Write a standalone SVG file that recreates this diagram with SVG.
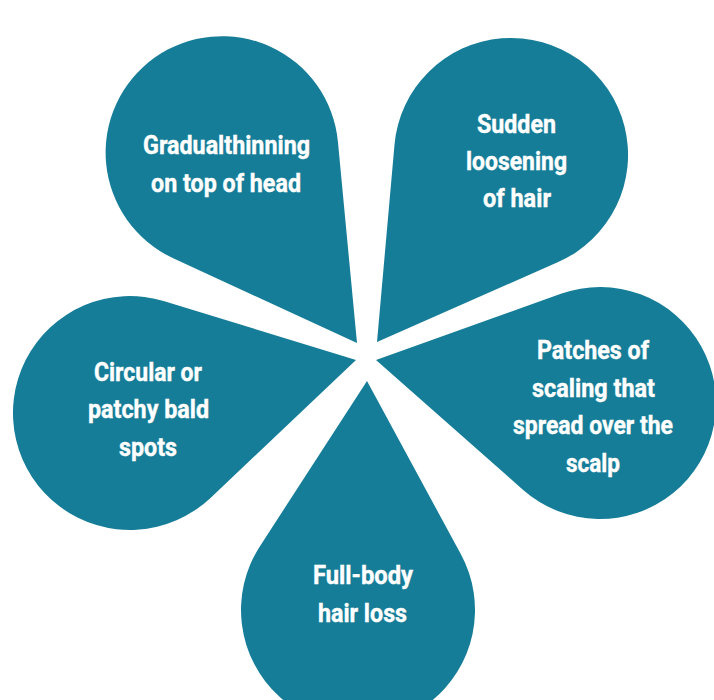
<svg xmlns="http://www.w3.org/2000/svg" width="714" height="700" viewBox="0 0 714 700">
<style>
.drop{fill:#167d98;}
.lbl{font-family:Roboto,"Liberation Sans",sans-serif;font-weight:700;font-size:25px;fill:#ffffff;stroke:#ffffff;stroke-width:0.4;text-anchor:middle;}
</style>
<rect width="714" height="700" fill="#ffffff"/>
<g id="node-gradual-thinning">
<path class="drop" d="M357,343 L173.2,258.2 A116.4,116.4 0 1 1 337.9,141.5 Z"/>
<text class="lbl" x="226.5" y="154" textLength="167" lengthAdjust="spacingAndGlyphs">Gradualthinning</text>
<text class="lbl" x="226" y="192" textLength="150" lengthAdjust="spacingAndGlyphs">on top of head</text>
</g>
<g id="node-sudden-loosening">
<path class="drop" d="M377,342 L394.5,144.7 A117,117 0 1 1 558.2,262 Z"/>
<text class="lbl" x="516.5" y="133" textLength="79" lengthAdjust="spacingAndGlyphs">Sudden</text>
<text class="lbl" x="516.5" y="170" textLength="101" lengthAdjust="spacingAndGlyphs">loosening</text>
<text class="lbl" x="517" y="207" textLength="68" lengthAdjust="spacingAndGlyphs">of hair</text>
</g>
<g id="node-circular-patches">
<path class="drop" d="M356,360 L210.5,497.9 A117,117 0 1 1 164.4,301.2 Z"/>
<text class="lbl" x="148" y="381" textLength="108" lengthAdjust="spacingAndGlyphs">Circular or</text>
<text class="lbl" x="148.5" y="418" textLength="121" lengthAdjust="spacingAndGlyphs">patchy bald</text>
<text class="lbl" x="148" y="456" textLength="58" lengthAdjust="spacingAndGlyphs">spots</text>
</g>
<g id="node-patches-scaling">
<path class="drop" d="M376,360 L560.9,293.8 A116,116 0 1 1 523.2,489.9 Z"/>
<text class="lbl" x="593" y="359" textLength="112" lengthAdjust="spacingAndGlyphs">Patches of</text>
<text class="lbl" x="593.5" y="397" textLength="123" lengthAdjust="spacingAndGlyphs">scaling that</text>
<text class="lbl" x="593" y="434" textLength="160" lengthAdjust="spacingAndGlyphs">spread over the</text>
<text class="lbl" x="593" y="472" textLength="54" lengthAdjust="spacingAndGlyphs">scalp</text>
</g>
<g id="node-full-body">
<path class="drop" d="M367,381 L460.9,554.3 A117,117 0 1 1 259.8,546.4 Z"/>
<text class="lbl" x="363" y="584" textLength="100" lengthAdjust="spacingAndGlyphs">Full-body</text>
<text class="lbl" x="362.5" y="622" textLength="89" lengthAdjust="spacingAndGlyphs">hair loss</text>
</g>
<g id="connectors"></g>
</svg>
